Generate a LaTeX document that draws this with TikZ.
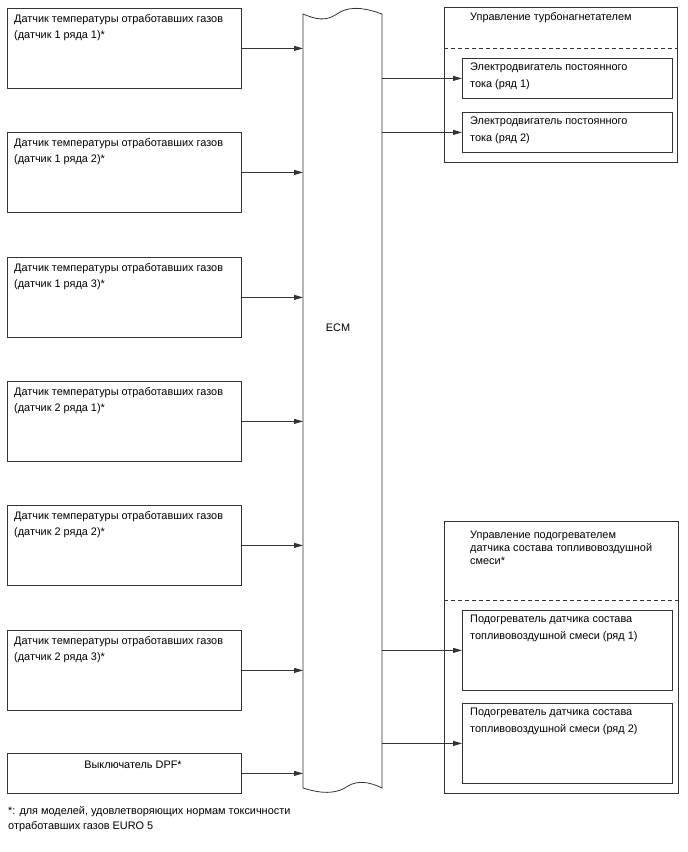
\documentclass[tikz,border=0pt]{standalone}
\usepackage{fontspec}
\setmainfont{Liberation Sans}
\usetikzlibrary{arrows.meta}
\definecolor{lc}{HTML}{333333}
\begin{document}
\begin{tikzpicture}[x=1pt,y=-1pt,
  box/.style={draw=lc, line width=0.8pt, inner sep=0pt, anchor=north west},
  txt/.style={inner sep=0pt, anchor=north west, align=left, font=\fontsize{10.9}{16.7}\selectfont},
  ttl/.style={inner sep=0pt, anchor=north west, align=left, font=\fontsize{10.9}{13}\selectfont},
  arr/.style={draw=lc, line width=0.8pt, -{Triangle[length=9pt,width=5pt]}},
  dsh/.style={draw=lc, line width=0.8pt, dash pattern=on 4pt off 3pt}]
\useasboundingbox (0,0) rectangle (688,852);
% ECM
\coordinate (ecmL) at (303,0);
\coordinate (ecmR) at (382,0);
\draw[lc, line width=0.8pt] (303,14) .. controls (315,19) and (325,22) .. (337,14)
  .. controls (347,7) and (360,6) .. (382,14) -- (382,788)
  .. controls (370,782) and (358,780) .. (348,786)
  .. controls (338,793) and (325,795) .. (303,788) -- cycle;
\node[inner sep=0pt, font=\fontsize{10.9}{12}\selectfont] (ecm) at (338,328) {ECM};
% left sensors
\foreach \i/\y/\a/\b in {1/8/1/1, 2/132/1/2, 3/257/1/3, 4/381/2/1, 5/505/2/2, 6/630/2/3}{
  \node[box, minimum width=234pt, minimum height=80pt] (s\i) at (7,\y) {};
  \node[txt] (st\i) at ([xshift=7pt,yshift=-6pt]s\i.north west)
    {Датчик температуры отработавших газов\\(датчик \a{} ряда \b)*};
  \draw[arr] (s\i.east) -- (s\i.east -| ecmL);
}
\node[box, minimum width=234pt, minimum height=40pt] (dpf) at (7,753) {};
\node[inner sep=0pt, anchor=base, font=\fontsize{10.9}{12}\selectfont] (dpft) at (133,768) {Выключатель DPF*};
\draw[arr] (dpf.east) -- (dpf.east -| ecmL);
% turbo group
\node[box, minimum width=233pt, minimum height=155pt] (g1) at (444,7) {};
\node[ttl] (g1t) at (470,12.5) {Управление турбонагнетателем};
\draw[dsh] (444,48) -- (677,48);
\node[box, minimum width=210pt, minimum height=40pt] (m1) at (462,58) {};
\node[txt] (m1t) at ([xshift=8pt,yshift=-5pt]m1.north west) {Электродвигатель постоянного\\тока (ряд 1)};
\node[box, minimum width=210pt, minimum height=40pt] (m2) at (462,112) {};
\node[txt] (m2t) at ([xshift=8pt,yshift=-5pt]m2.north west) {Электродвигатель постоянного\\тока (ряд 2)};
\draw[arr] (m1.west -| ecmR) -- (m1.west);
\draw[arr] (m2.west -| ecmR) -- (m2.west);
% heater group
\node[box, minimum width=234pt, minimum height=272pt] (g2) at (444,521) {};
\node[ttl] (g2t) at (470,531) {Управление подогревателем\\датчика состава топливовоздушной\\смеси*};
\draw[dsh] (444,600) -- (678,600);
\node[box, minimum width=210pt, minimum height=80pt] (h1) at (462,610) {};
\node[txt] (h1t) at ([xshift=8pt,yshift=-5pt]h1.north west) {Подогреватель датчика состава\\топливовоздушной смеси (ряд 1)};
\node[box, minimum width=210pt, minimum height=80pt] (h2) at (462,703) {};
\node[txt] (h2t) at ([xshift=8pt,yshift=-5pt]h2.north west) {Подогреватель датчика состава\\топливовоздушной смеси (ряд 2)};
\draw[arr] (h1.west -| ecmR) -- (h1.west);
\draw[arr] (h2.west -| ecmR) -- (h2.west);
% footnote
\node[inner sep=0pt, anchor=north west, align=left, font=\fontsize{10.9}{14.5}\selectfont] (fn) at (8,806.5)
  {*: для моделей, удовлетворяющих нормам токсичности\\отработавших газов EURO 5};
\end{tikzpicture}
\end{document}
